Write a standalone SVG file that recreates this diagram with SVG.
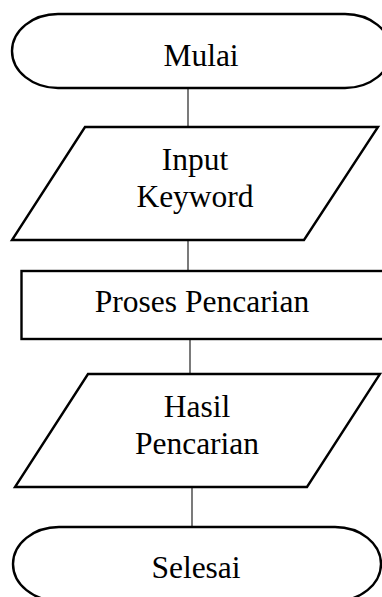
<svg xmlns="http://www.w3.org/2000/svg" width="382" height="597" viewBox="0 0 382 597">
<style>
.shape{fill:#fff;stroke:#000;stroke-width:2.4;stroke-linejoin:miter}
.conn{stroke:#222;stroke-width:1.2;fill:none}
.lbl{font-family:"Liberation Serif","Times New Roman",serif;font-size:31.5px;fill:#000;text-anchor:middle}
</style>
<rect width="382" height="597" fill="#fff"/>
<g id="connectors">
<line class="conn" x1="188" y1="88" x2="188" y2="127"/>
<line class="conn" x1="188" y1="240" x2="188" y2="271"/>
<line class="conn" x1="190" y1="339" x2="190" y2="374"/>
<line class="conn" x1="192" y1="487" x2="192" y2="527"/>
</g>
<g id="mulai">
<rect class="shape" x="12" y="14" width="379" height="74" rx="46" ry="37"/>
<text class="lbl" x="201" y="66">Mulai</text>
</g>
<g id="input">
<polygon class="shape" points="85,127 378,127 304,240 12,240"/>
<text class="lbl" x="195" y="170">Input</text>
<text class="lbl" x="195" y="207">Keyword</text>
</g>
<g id="proses">
<rect class="shape" x="21.5" y="271" width="362" height="68" stroke-width="2.8"/>
<text class="lbl" x="202" y="312">Proses Pencarian</text>
</g>
<g id="hasil">
<polygon class="shape" points="88,374 380,374 307,487 15,487"/>
<text class="lbl" x="197" y="417">Hasil</text>
<text class="lbl" x="197" y="454">Pencarian</text>
</g>
<g id="selesai">
<rect class="shape" x="13" y="527" width="368" height="74" rx="46" ry="37"/>
<text class="lbl" x="196" y="578">Selesai</text>
</g>
</svg>
